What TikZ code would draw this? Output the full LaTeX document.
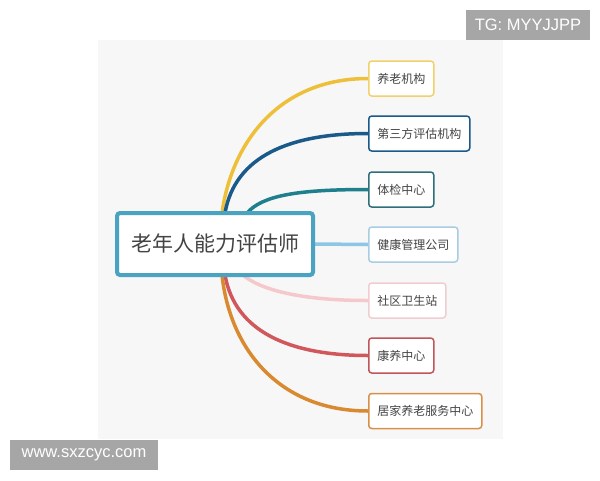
\documentclass[tikz,border=0pt]{standalone}
\usepackage{fontspec}
\usetikzlibrary{backgrounds}
\setmainfont{Liberation Sans}
\newfontfamily\cjk{Noto Sans CJK SC}
\definecolor{txt}{HTML}{444444}
\definecolor{panel}{HTML}{F7F7F7}
\definecolor{wm}{HTML}{A6A6A6}
\definecolor{cmain}{HTML}{4AA3C0}
\definecolor{cyel}{HTML}{EEC03A}
\definecolor{cyelb}{HTML}{F2D06A}
\definecolor{cblue}{HTML}{1A5A8A}
\definecolor{cteal}{HTML}{1F7F8C}
\definecolor{ctealb}{HTML}{2F6F7A}
\definecolor{clblue}{HTML}{8EC6E6}
\definecolor{clblueb}{HTML}{A8CDE3}
\definecolor{cpink}{HTML}{F5C8CC}
\definecolor{cpinkb}{HTML}{EFCDD0}
\definecolor{cred}{HTML}{D0585C}
\definecolor{credb}{HTML}{C0555A}
\definecolor{corange}{HTML}{D98A30}
\definecolor{corangeb}{HTML}{D89048}
\tikzset{
  leaf/.style={draw, line width=1.5pt, rounded corners=3pt, fill=white, anchor=west,
    minimum height=35pt, inner sep=0pt, text=txt, font=\cjk\fontsize{12}{14}\selectfont},
  branch/.style={line width=3.5pt, line cap=round},
  wmark/.style={fill=wm, text=white, inner sep=0pt, font=\fontsize{16.5}{18}\selectfont}
}
\begin{document}
\begin{tikzpicture}[x=1pt,y=-1pt]
\useasboundingbox (0,0) rectangle (600,480);
% central node
\node[draw=cmain, line width=4pt, rounded corners=3pt, fill=white, minimum width=196pt,
  minimum height=62pt, inner sep=0pt, text=txt, font=\cjk\fontsize{21}{25}\selectfont]
  (c) at (215,244) {老年人能力评估师};
% leaves
\node[leaf, draw=cyelb, minimum width=65pt] (l1) at (368,78.5) {养老机构};
\node[leaf, draw=cblue, minimum width=101pt] (l2) at (368,133.5) {第三方评估机构};
\node[leaf, draw=ctealb, minimum width=65pt] (l3) at (368,189.5) {体检中心};
\node[leaf, draw=clblueb, minimum width=89pt] (l4) at (368,244.5) {健康管理公司};
\node[leaf, draw=cpinkb, minimum width=77pt] (l5) at (368,300.5) {社区卫生站};
\node[leaf, draw=credb, minimum width=65pt] (l6) at (368,355.5) {康养中心};
\node[leaf, draw=corangeb, minimum width=113pt] (l7) at (368,411) {居家养老服务中心};
% start coordinates on the central node
\coordinate (s1) at ([xshift=107pt,yshift=-2pt]c.north west);
\coordinate (s2) at ([xshift=110pt,yshift=-2pt]c.north west);
\coordinate (s3) at ([xshift=132pt,yshift=-2pt]c.north west);
\coordinate (s5) at ([xshift=128pt,yshift=2pt]c.south west);
\coordinate (s6) at ([xshift=110pt,yshift=2pt]c.south west);
\coordinate (s7) at ([xshift=107pt,yshift=2pt]c.south west);
% branches and panel behind
\begin{scope}[on background layer]
\fill[white] (0,0) rectangle (600,480);
\fill[panel] (98,40) rectangle (503,439);
\draw[branch, cyel] (s1) .. controls ([xshift=10pt,yshift=72pt]s1) and ([xshift=-88pt]l1.west) .. (l1.west);
\draw[branch, cblue] (s2) .. controls ([xshift=10pt,yshift=57pt]s2) and ([xshift=-78pt]l2.west) .. (l2.west);
\draw[branch, cteal] (s3) .. controls ([xshift=15pt,yshift=17pt]s3) and ([xshift=-73pt]l3.west) .. (l3.west);
\draw[branch, clblue] (c.east) -- (l4.west);
\draw[branch, cpink] (s5) .. controls ([xshift=15pt,yshift=-13pt]s5) and ([xshift=-73pt]l5.west) .. (l5.west);
\draw[branch, cred] (s6) .. controls ([xshift=10pt,yshift=-57pt]s6) and ([xshift=-78pt]l6.west) .. (l6.west);
\draw[branch, corange] (s7) .. controls ([xshift=8pt,yshift=-75pt]s7) and ([xshift=-88pt]l7.west) .. (l7.west);
\end{scope}
% watermarks
\node[wmark, minimum width=124pt, minimum height=30pt] (tg) at (528,25) {TG: MYYJJPP};
\node[wmark, minimum width=148pt, minimum height=30pt] (www) at (84,455) {www.sxzcyc.com};
\end{tikzpicture}
\end{document}
